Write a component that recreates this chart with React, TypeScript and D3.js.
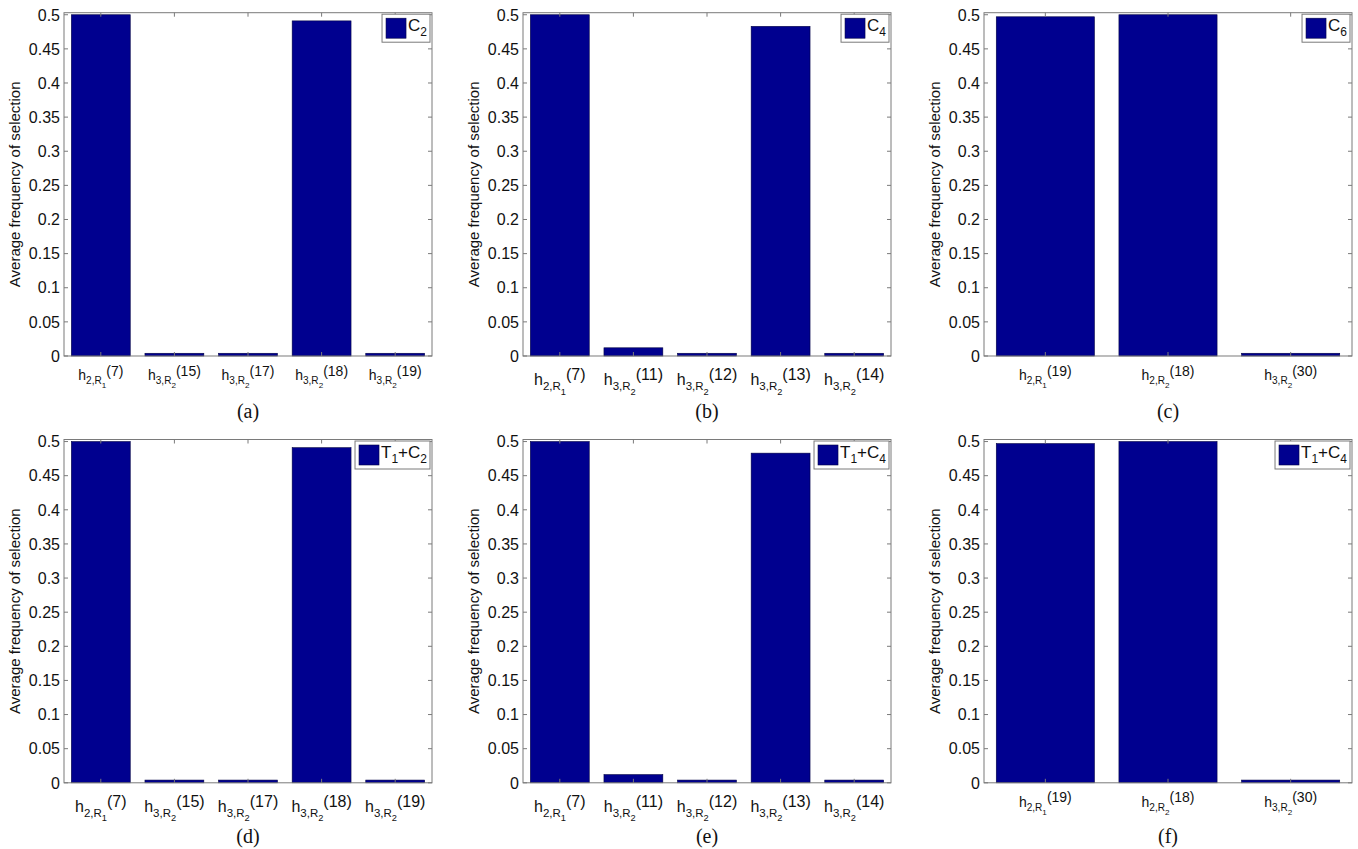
import React, { useEffect, useRef } from "react";
import * as d3 from "d3";

// tick label parts: [h index, R index, number]  ->  h_{i,R_j}(n)
const catsAD = [["2", "1", "7"], ["3", "2", "15"], ["3", "2", "17"], ["3", "2", "18"], ["3", "2", "19"]];
const catsBE = [["2", "1", "7"], ["3", "2", "11"], ["3", "2", "12"], ["3", "2", "13"], ["3", "2", "14"]];
const catsCF = [["2", "1", "19"], ["2", "2", "18"], ["3", "2", "30"]];

const valuesAD = [0.5, 0.004, 0.004, 0.491, 0.004];
const valuesBE = [0.5, 0.012, 0.004, 0.483, 0.004];
const valuesCF = [0.497, 0.5, 0.004];

const yTicks = [0, 0.05, 0.1, 0.15, 0.2, 0.25, 0.3, 0.35, 0.4, 0.45, 0.5];

// legend parts: [text, subscript] pairs
const legendA = [["C", "2"]];
const legendB = [["C", "4"]];
const legendC = [["C", "6"]];
const legendD = [["T", "1"], ["+C", "2"]];
const legendE = [["T", "1"], ["+C", "4"]];
const legendF = [["T", "1"], ["+C", "4"]];

const captions = ["(a)", "(b)", "(c)", "(d)", "(e)", "(f)"];

const panels = [
  { cats: catsAD, values: valuesAD, legend: legendA, row: 0, col: 0, fs: 14 },
  { cats: catsBE, values: valuesBE, legend: legendB, row: 0, col: 1, fs: 16 },
  { cats: catsCF, values: valuesCF, legend: legendC, row: 0, col: 2, fs: 14 },
  { cats: catsAD, values: valuesAD, legend: legendD, row: 1, col: 0, fs: 16 },
  { cats: catsBE, values: valuesBE, legend: legendE, row: 1, col: 1, fs: 16 },
  { cats: catsCF, values: valuesCF, legend: legendF, row: 1, col: 2, fs: 14 },
];

const App = () => {
  const svgRef = useRef(null);
  const width = 1358;
  const height = 849;

  useEffect(() => {
    const svg = d3.select(svgRef.current);
    svg.selectAll("*").remove();

    const colLeft = [64, 523, 984];
    const rowTop = [12.7, 439.5];
    const plotW = 368;
    const plotH = 343.3;
    const sans = "'Liberation Sans', Arial, sans-serif";
    const axisColor = "#7a7a7a";
    const barColor = "#00008f";

    panels.forEach((p, i) => {
      const x0 = colLeft[p.col];
      const y0 = rowTop[p.row];
      const g = svg.append("g").attr("transform", `translate(${x0},${y0})`);

      const xScale = d3
        .scaleBand()
        .domain(p.cats.map((_, k) => String(k)))
        .range([0, plotW])
        .paddingInner(0.2)
        .paddingOuter(0.1);

      const yScale = d3.scaleLinear().domain([0, 0.503]).range([plotH, 0]);

      // bars
      g.selectAll("rect.bar")
        .data(p.values)
        .enter()
        .append("rect")
        .attr("class", "bar")
        .attr("x", (_, k) => xScale(String(k)))
        .attr("y", (d) => yScale(d))
        .attr("width", xScale.bandwidth())
        .attr("height", (d) => plotH - yScale(d))
        .attr("fill", barColor)
        .attr("stroke", "#000044")
        .attr("stroke-width", 0.6);

      // frame
      g.append("rect")
        .attr("width", plotW)
        .attr("height", plotH)
        .attr("fill", "none")
        .attr("stroke", axisColor)
        .attr("stroke-width", 1);

      // y ticks (inward, both sides)
      yTicks.forEach((t) => {
        const y = yScale(t);
        g.append("line").attr("x1", 0).attr("x2", 4).attr("y1", y).attr("y2", y).attr("stroke", axisColor);
        g.append("line").attr("x1", plotW - 4).attr("x2", plotW).attr("y1", y).attr("y2", y).attr("stroke", axisColor);
        g.append("text")
          .attr("x", -4)
          .attr("y", y)
          .attr("dy", "0.36em")
          .attr("text-anchor", "end")
          .attr("font-family", sans)
          .attr("font-size", 16)
          .attr("fill", "#111")
          .text(String(t));
      });

      // x ticks (top and bottom)
      p.cats.forEach((_, k) => {
        const cx = xScale(String(k)) + xScale.bandwidth() / 2;
        g.append("line").attr("x1", cx).attr("x2", cx).attr("y1", 0).attr("y2", 4).attr("stroke", axisColor);
        g.append("line").attr("x1", cx).attr("x2", cx).attr("y1", plotH - 4).attr("y2", plotH).attr("stroke", axisColor);
      });

      // x tick labels h_{i,R_j}(n)
      const fs = p.fs;
      const base = fs >= 16 ? 29 : 24;
      p.cats.forEach((c, k) => {
        const cx = xScale(String(k)) + xScale.bandwidth() / 2;
        const t = g
          .append("text")
          .attr("x", cx)
          .attr("y", plotH + base)
          .attr("text-anchor", "middle")
          .attr("font-family", sans)
          .attr("font-size", fs)
          .attr("fill", "#111");
        t.append("tspan").text("h");
        t.append("tspan").attr("dy", fs * 0.3).attr("font-size", fs * 0.72).text(`${c[0]},R`);
        t.append("tspan").attr("dy", fs * 0.3).attr("font-size", fs * 0.58).text(c[1]);
        t.append("tspan").attr("dy", -fs * 0.92).attr("font-size", fs).text(`(${c[2]})`);
      });

      // y axis label
      g.append("text")
        .attr("transform", `translate(-44,${plotH / 2}) rotate(-90)`)
        .attr("text-anchor", "middle")
        .attr("font-family", sans)
        .attr("font-size", 15)
        .attr("fill", "#111")
        .text("Average frequency of selection");

      // legend
      const lg = g.append("g");
      const lt = lg
        .append("text")
        .attr("font-family", sans)
        .attr("font-size", 17)
        .attr("fill", "#111");
      p.legend.forEach(([s, sub], k) => {
        lt.append("tspan").attr("dy", k === 0 ? 0 : -5).text(s);
        lt.append("tspan").attr("dy", 5).attr("font-size", 12).text(sub);
      });
      const tw = lt.node().getComputedTextLength();
      const boxW = 4 + 20 + 2 + tw + 3;
      const bx = plotW - 2 - boxW;
      const by = 1.5;
      lg.insert("rect", "text")
        .attr("x", bx)
        .attr("y", by)
        .attr("width", boxW)
        .attr("height", 28)
        .attr("fill", "#fff")
        .attr("stroke", axisColor);
      lg.append("rect")
        .attr("x", bx + 4)
        .attr("y", by + 4)
        .attr("width", 20)
        .attr("height", 20)
        .attr("fill", barColor)
        .attr("stroke", "#000044")
        .attr("stroke-width", 0.6);
      lt.attr("x", bx + 26).attr("y", by + 17);

      // caption
      svg
        .append("text")
        .attr("x", x0 + plotW / 2)
        .attr("y", p.row === 0 ? 418 : 843)
        .attr("text-anchor", "middle")
        .attr("font-family", "'Liberation Serif', 'Times New Roman', serif")
        .attr("font-size", 20)
        .attr("fill", "#111")
        .text(captions[i]);
    });
  }, []);

  return (
    <svg
      ref={svgRef}
      width={width}
      height={height}
      style={{ position: "absolute", left: 0, top: 0, background: "#fff" }}
    ></svg>
  );
};

export default App;
